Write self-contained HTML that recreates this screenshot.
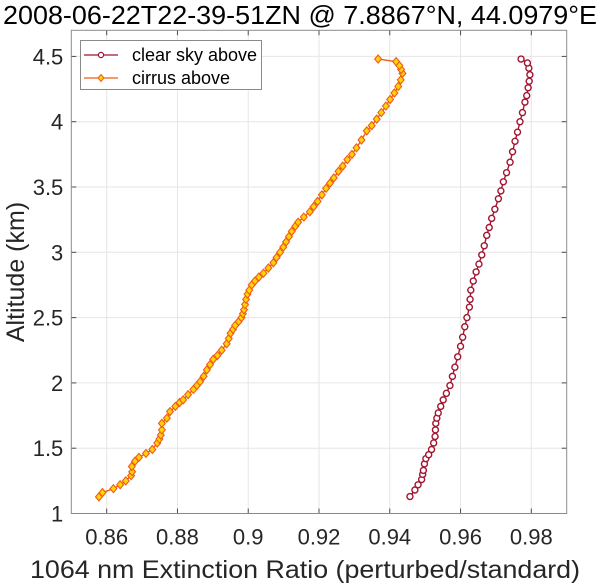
<!DOCTYPE html>
<html><head><meta charset="utf-8"><style>
html,body{margin:0;padding:0;background:#fff;}
svg{display:block;font-family:"Liberation Sans",Arial,sans-serif;}
</style></head><body>
<svg id="chart" width="600" height="586" viewBox="0 0 600 586" xmlns="http://www.w3.org/2000/svg">
<rect width="600" height="586" fill="#fff"/>
<g id="grid"></g>
<g id="series"></g>
<g id="axes"></g>
<text x="300" y="24" text-anchor="middle" font-size="25.5" textLength="594" lengthAdjust="spacingAndGlyphs" fill="#000">2008-06-22T22-39-51ZN @ 7.8867°N, 44.0979°E</text>
<text x="305" y="578" text-anchor="middle" font-size="25" textLength="550" lengthAdjust="spacingAndGlyphs" fill="#262626">1064 nm Extinction Ratio (perturbed/standard)</text>
<text transform="translate(24,272) rotate(-90)" text-anchor="middle" font-size="25" fill="#262626">Altitude (km)</text>
<g>
<rect x="80.5" y="40.5" width="181" height="49" fill="#fff" stroke="#8a8a8a" stroke-width="1"/>
<g>
<line x1="84" y1="55" x2="118" y2="55" stroke="#a2142f" stroke-width="1.2"/>
<circle cx="101" cy="55" r="2.6" fill="#fff" stroke="#a2142f" stroke-width="1.2"/>
<text x="132" y="61" font-size="18" fill="#000">clear sky above</text>
</g>
<g>
<line x1="84" y1="78" x2="118" y2="78" stroke="#f05a1a" stroke-width="1.2"/>
<path d="M101 74.5 L104 78 L101 81.5 L98 78 Z" fill="#ffd400" stroke="#f05a1a" stroke-width="1"/>
<text x="132" y="84" font-size="18" fill="#000">cirrus above</text>
</g>
</g>
</svg>
<script>
const xTicks = [0.86, 0.88, 0.9, 0.92, 0.94, 0.96, 0.98];
const xTickLabels = ["0.86", "0.88", "0.9", "0.92", "0.94", "0.96", "0.98"];
const yTicks = [1, 1.5, 2, 2.5, 3, 3.5, 4, 4.5];
const yTickLabels = ["1", "1.5", "2", "2.5", "3", "3.5", "4", "4.5"];
const clearAlt = [1.13,1.18,1.22,1.26,1.30,1.33,1.38,1.42,1.45,1.49,1.54,1.59,1.64,1.69,1.73,1.77,1.82,1.87,1.92,1.98,2.05,2.12,2.20,2.28,2.35,2.43,2.50,2.58,2.64,2.71,2.78,2.85,2.91,2.98,3.05,3.13,3.19,3.26,3.33,3.41,3.47,3.54,3.61,3.69,3.77,3.85,3.92,4.00,4.07,4.15,4.20,4.26,4.31,4.36,4.41,4.45,4.48];
const clearRatio = [.9457,.9471,.9480,.9490,.9493,.9495,.9498,.9502,.9510,.9518,.9524,.9528,.9529,.9530,.9533,.9537,.9544,.9551,.9560,.9570,.9577,.9584,.9592,.9600,.9606,.9612,.9618,.9625,.9627,.9629,.9636,.9644,.9652,.9660,.9667,.9674,.9681,.9688,.9697,.9707,.9714,.9721,.9730,.9740,.9747,.9754,.9761,.9768,.9775,.9782,.9787,.9791,.9794,.9796,.9793,.9789,.9771];
const cirrusAlt = [1.127,1.16,1.19,1.22,1.25,1.29,1.32,1.36,1.40,1.43,1.46,1.49,1.54,1.57,1.60,1.64,1.69,1.73,1.78,1.82,1.85,1.87,1.91,1.95,1.98,2.01,2.05,2.10,2.14,2.18,2.21,2.25,2.30,2.34,2.38,2.41,2.44,2.47,2.50,2.53,2.56,2.60,2.64,2.68,2.71,2.75,2.78,2.81,2.84,2.88,2.92,2.96,3.00,3.04,3.08,3.12,3.16,3.20,3.23,3.27,3.31,3.35,3.39,3.44,3.49,3.53,3.57,3.62,3.66,3.71,3.75,3.80,3.86,3.93,3.97,4.02,4.07,4.12,4.17,4.22,4.27,4.32,4.37,4.40,4.43,4.46,4.48];
const cirrusRatio = [.8578,.8588,.8619,.8638,.8654,.8669,.8672,.8671,.8680,.8691,.8711,.8729,.8743,.8749,.8753,.8756,.8756,.8770,.8779,.8794,.8806,.8816,.8830,.8845,.8855,.8864,.8874,.8883,.8892,.8901,.8913,.8925,.8939,.8945,.8950,.8957,.8963,.8973,.8981,.8985,.8988,.8991,.8994,.8998,.9003,.9010,.9019,.9030,.9043,.9057,.9071,.9080,.9090,.9099,.9107,.9115,.9123,.9133,.9141,.9157,.9174,.9185,.9196,.9208,.9220,.9231,.9242,.9255,.9267,.9280,.9293,.9306,.9320,.9335,.9349,.9363,.9376,.9389,.9401,.9413,.9424,.9431,.9436,.9432,.9427,.9418,.9367];

const NS = "http://www.w3.org/2000/svg";
const L = 71.3, R = 566.7, T = 30.3, B = 513.5;
const xMin = 0.85, xMax = 0.99, yMin = 1, yMax = 4.7;
function xScale(v){ return L + (v - xMin) / (xMax - xMin) * (R - L); }
function yScale(v){ return B - (v - yMin) / (yMax - yMin) * (B - T); }
function mk(tag, attrs, parent){ const e = document.createElementNS(NS, tag); for (const k in attrs) e.setAttribute(k, attrs[k]); parent.appendChild(e); return e; }

const grid = document.getElementById('grid');
const axes = document.getElementById('axes');
const series = document.getElementById('series');

xTicks.forEach((t, i) => {
  const x = xScale(t);
  const g = mk('line', {x1:x, y1:T, x2:x, y2:B, stroke:'#e6e6e6', 'stroke-width':1}, grid);
  
  
  const tk = mk('line', {x1:x, y1:B, x2:x, y2:B-5, stroke:'#4d4d4d', 'stroke-width':1}, axes);
  
  
  const tk2 = mk('line', {x1:x, y1:T, x2:x, y2:T+5, stroke:'#4d4d4d', 'stroke-width':1}, axes);
  
  
  const lb = mk('text', {x:x, y:B+31, 'text-anchor':'middle', 'font-size':22, fill:'#262626'}, axes);
  lb.textContent = xTickLabels[i];
  
  
});
yTicks.forEach((t, i) => {
  const y = yScale(t);
  const g = mk('line', {x1:L, y1:y, x2:R, y2:y, stroke:'#e6e6e6', 'stroke-width':1}, grid);
  
  
  const tk = mk('line', {x1:L, y1:y, x2:L+5, y2:y, stroke:'#4d4d4d', 'stroke-width':1}, axes);
  
  
  const tk2 = mk('line', {x1:R, y1:y, x2:R-5, y2:y, stroke:'#4d4d4d', 'stroke-width':1}, axes);
  
  
  const lb = mk('text', {x:L-8, y:y+8, 'text-anchor':'end', 'font-size':22, fill:'#262626'}, axes);
  lb.textContent = yTickLabels[i];
  
  
});
const frame = mk('rect', {x:L, y:T, width:R-L, height:B-T, fill:'none', stroke:'#8a8a8a', 'stroke-width':1}, axes);



function drawSeries(alts, vals, color, name, marker){
  const g = mk('g', {}, series);
  
  
  const pts = alts.map((a, i) => xScale(vals[i]).toFixed(2) + ',' + yScale(a).toFixed(2)).join(' ');
  const pl = mk('polyline', {points:pts, fill:'none', stroke:color, 'stroke-width':1.4}, g);
  
  
  alts.forEach((a, i) => {
    const x = xScale(vals[i]), y = yScale(a);
    let m;
    if (marker === 'circle') {
      m = mk('circle', {cx:x, cy:y, r:3, fill:'#fff', stroke:color, 'stroke-width':1.4}, g);
    } else {
      m = mk('path', {d:`M${x} ${y-4} L${x+3.4} ${y} L${x} ${y+4} L${x-3.4} ${y} Z`, fill:'#ffd400', stroke:color, 'stroke-width':1.1}, g);
    }
    
    
  });
}
drawSeries(clearAlt, clearRatio, '#a2142f', 'clear-sky-series', 'circle');
drawSeries(cirrusAlt, cirrusRatio, '#f05a1a', 'cirrus-series', 'diamond');
</script>
</body></html>
